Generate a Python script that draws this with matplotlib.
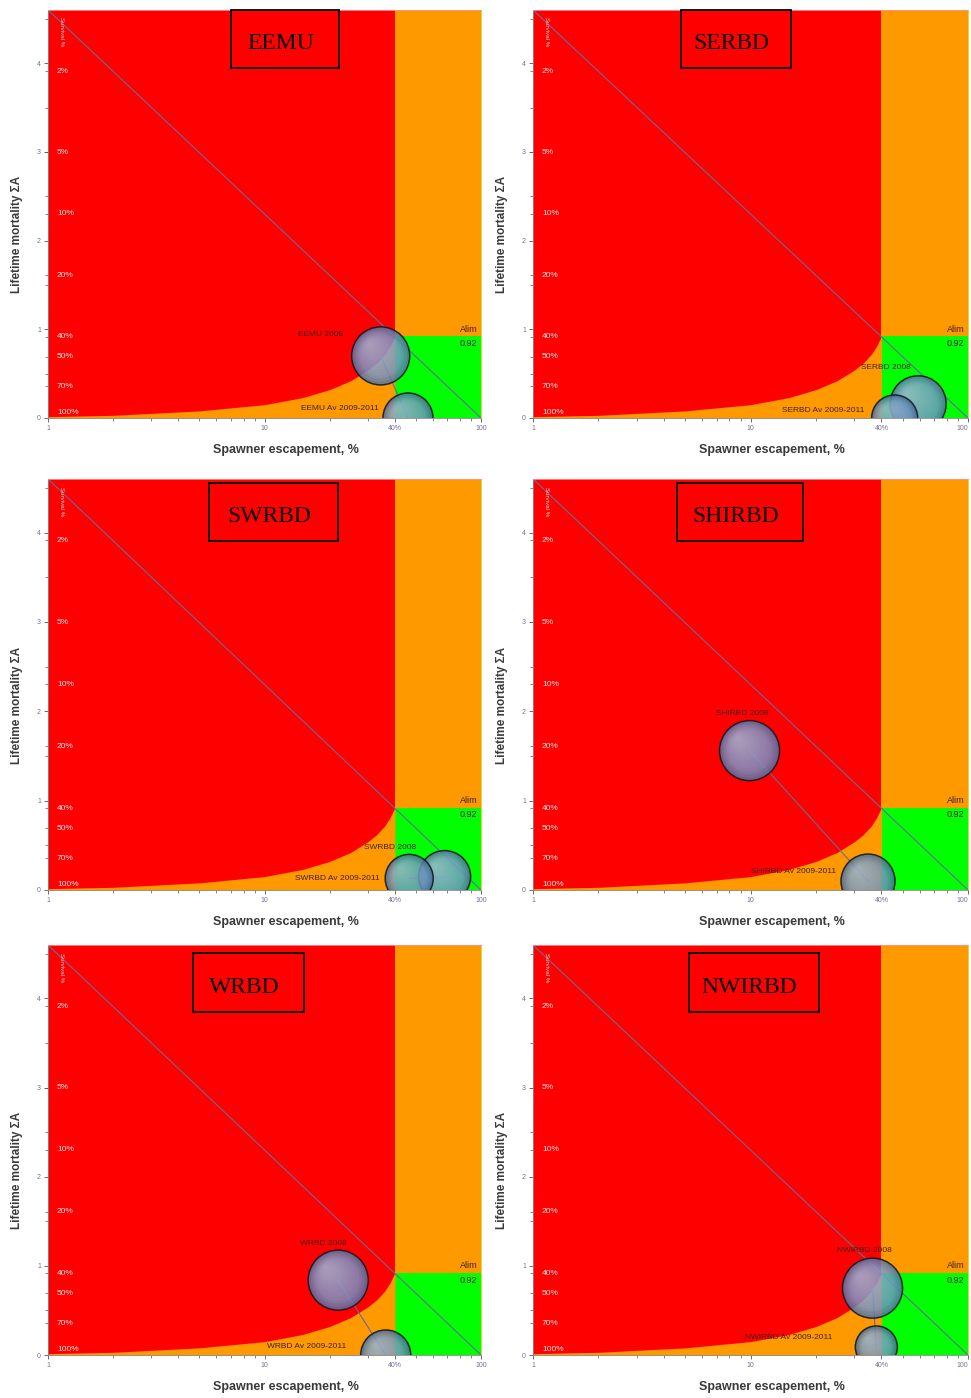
import numpy as np
import matplotlib
matplotlib.use('Agg')
import matplotlib.pyplot as plt
import matplotlib.transforms as mtransforms
from matplotlib.patches import Circle, Rectangle

plt.rcParams['font.family'] = ['Liberation Sans', 'DejaVu Sans']

# --- data ---
regions = ['EEMU', 'SERBD', 'SWRBD', 'SHIRBD', 'WRBD', 'NWIRBD']
x_2008 = [34.4, 59.0, 67.9, 9.9, 21.9, 36.4]       # spawner escapement %
y_2008 = [0.70, 0.16, 0.15, 1.56, 0.84, 0.75]      # lifetime mortality
r_2008 = [29, 28, 26, 30, 30, 30]                  # bubble radius (px)
x_av = [46.0, 46.0, 46.6, 34.7, 36.3, 37.9]
y_av = [0.0, 0.0, 0.13, 0.10, 0.0, 0.09]
r_av = [25, 23, 24, 27, 25, 21]

alim = 0.92
b_lim = 40
diag_x = [1, 100]
diag_y = [4.6, 0.0]
curve_x = [1, 2, 5, 10, 15, 20, 25, 30, 33, 36, 38, 40]
curve_y = [0.015, 0.03, 0.08, 0.15, 0.23, 0.32, 0.42, 0.54, 0.62, 0.72, 0.81, 0.92]
survival = [2, 5, 10, 20, 40, 50, 70, 100]

# --- layout (pixels, fig = 971 x 1398 at dpi 100) ---
W, H = 971, 1398
col_x = [(48, 481), (533, 968)]
row_y = [(10, 418), (479, 890), (945, 1355)]
# title box in axes fraction: x0, x1, y0, y1
boxes = [(0.422, 0.671, 0.857, 1.0), (0.341, 0.593, 0.857, 1.0),
         (0.372, 0.670, 0.849, 0.990), (0.331, 0.620, 0.849, 0.990),
         (0.335, 0.591, 0.837, 0.980), (0.359, 0.657, 0.837, 0.980)]
# label offsets in pixels from bubble centre
lab08 = [(-60, 21), (-32, 36), (-55, 29), (-7, 37), (-15, 37), (-8, 38)]
labav = [(-29, 10), (-30, 7), (-29, 0), (-32, 10), (-39, 9), (-44, 9)]

RED, ORANGE, GREEN = '#ff0000', '#ff9900', '#00ff00'
LINE = '#6a6a9a'
TICK = '#7a6f9a'

fig = plt.figure(figsize=(W / 100, H / 100), dpi=100)


def sphere(ax, x, y, r_px, color):
    trans = fig.dpi_scale_trans + mtransforms.ScaledTranslation(x, y, ax.transData)
    r = r_px / 100
    ax.add_patch(Circle((0, 0), r, transform=trans, facecolor=color,
                        edgecolor='none', alpha=0.8, zorder=5))
    # shading towards the rim
    for i in range(6):
        t = i / 6
        ax.add_patch(Circle((0, 0), r * (1 - 0.05 * i), transform=trans,
                            facecolor='none', edgecolor='#0a1420', lw=1.6,
                            alpha=0.12 * (1 - t), zorder=5))
    n = 12
    for i in range(n):
        t = (i + 1) / n
        ax.add_patch(Circle((-0.38 * r * t, 0.38 * r * t), r * (1 - 0.9 * t),
                            transform=trans, facecolor='white', edgecolor='none',
                            alpha=0.035, zorder=5))
    ax.add_patch(Circle((0, 0), r, transform=trans, facecolor='none',
                        edgecolor='#101820', lw=1.0, alpha=0.9, zorder=5))


for k, name in enumerate(regions):
    row, col = divmod(k, 2)
    x0, x1 = col_x[col]
    ytop, ybot = row_y[row]
    ax = fig.add_axes([x0 / W, 1 - ybot / H, (x1 - x0) / W, (ybot - ytop) / H])
    ax.set_xscale('log')
    ax.set_xlim(1, 100)
    ax.set_ylim(0, 4.6)
    ax.set_facecolor(RED)
    ax.set_autoscale_on(False)

    ax.fill_between([b_lim, 100], 0, 4.6, color=ORANGE, lw=0, zorder=1)
    ax.fill_between([b_lim, 100], 0, alim, color=GREEN, lw=0, zorder=1)
    ax.fill_between(curve_x, 0, curve_y, color=ORANGE, lw=0, zorder=1)
    ax.plot(diag_x, diag_y, color=LINE, lw=0.8, zorder=2)
    ax.plot([x_2008[k], x_av[k]], [y_2008[k], y_av[k]], color=LINE, lw=0.8, zorder=2)

    for p in survival:
        yy = max(-np.log(p / 100), 0.06)
        ax.text(1.1, yy, f'{p}%', color='#ffe6e6', fontsize=6, va='center',
                ha='left', zorder=3)
    ax.text(1.12, 4.35, 'Survival %', color='#ffd0d0', fontsize=4.5,
            rotation=-90, va='center', ha='left', zorder=3)

    ax.text(96, alim + 0.03, 'Alim', fontsize=6.5, color='#402020', ha='right',
            va='bottom', zorder=3)
    ax.text(96, alim - 0.03, '0.92', fontsize=6.5, color='#402020', ha='right',
            va='top', zorder=3)

    sphere(ax, x_2008[k], y_2008[k], r_2008[k], '#6489c4')
    sphere(ax, x_av[k], y_av[k], r_av[k], '#5a86b8')

    ax.annotate(f'{name} 2008', (x_2008[k], y_2008[k]), xytext=lab08[k],
                textcoords='offset pixels', fontsize=6, color='#402020',
                ha='center', va='center', zorder=4)
    ax.annotate(f'{name} Av 2009-2011', (x_av[k], y_av[k]), xytext=labav[k],
                textcoords='offset pixels', fontsize=6, color='#402020',
                ha='right', va='center', zorder=4)

    bx0, bx1, by0, by1 = boxes[k]
    ax.add_patch(Rectangle((bx0, by0), bx1 - bx0, by1 - by0, transform=ax.transAxes,
                           fill=False, edgecolor='black', lw=1.3, zorder=6,
                           clip_on=False))
    ax.text((bx0 + bx1) / 2 - 0.01, by0 + 0.42 * (by1 - by0), name,
            transform=ax.transAxes, family='Liberation Serif', fontsize=17,
            ha='center', va='center', zorder=6)

    ax.set_xticks([1, 10, 40, 100])
    ax.set_xticklabels(['1', '10', '40%', '100'])
    if col == 1:
        ax.get_xticklabels()[-1].set_horizontalalignment('right')
    ax.set_yticks([0, 1, 2, 3, 4])
    ax.set_yticks([-np.log(p / 100) for p in survival] + [0.5, 1.5, 2.5, 3.5, 4.5],
                  minor=True)
    ax.tick_params(axis='both', which='major', labelsize=5, colors='#555555',
                   labelcolor=TICK, length=3, width=0.6, pad=2)
    ax.tick_params(axis='both', which='minor', length=2, width=0.5, colors='#555555')
    for s in ax.spines.values():
        s.set_linewidth(0.6)
        s.set_color('#888888')
    ax.spines['right'].set_color('#d0d020')
    ax.spines['top'].set_color('#ff9090')

    ax.set_xlabel('Spawner escapement, %', fontsize=9, fontweight='bold',
                  color='#3a3a3a')
    ax.set_ylabel('Lifetime mortality ΣA', fontsize=8.5, fontweight='bold',
                  color='#3a3a3a')
    ax.xaxis.set_label_coords(0.55, -0.064)
    ax.yaxis.set_label_coords(-0.058, 0.45)

fig.savefig('out.png', dpi=100)
